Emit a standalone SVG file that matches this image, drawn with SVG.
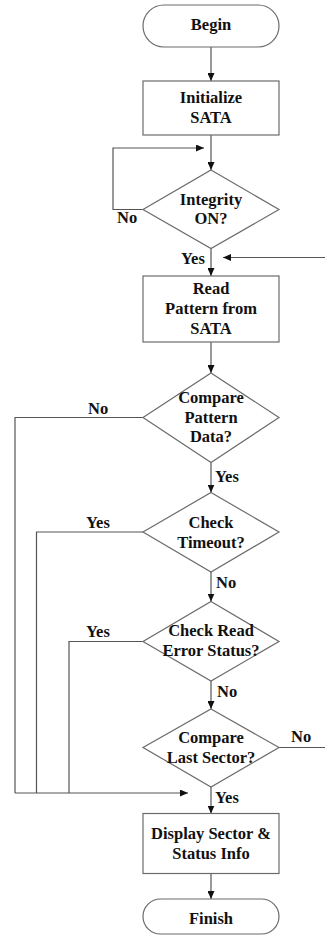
<svg xmlns="http://www.w3.org/2000/svg" width="325" height="935" viewBox="0 0 325 935">
<style>
.n{fill:#fff;stroke:#6b6b6b;stroke-width:1.2}
text{font-family:'Liberation Serif','DejaVu Serif',serif;font-weight:700;font-size:16.5px;fill:#111}
.t{text-anchor:middle}
.c{fill:none;stroke:#555;stroke-width:1.2}
</style>
<defs>
<marker id="a" markerUnits="userSpaceOnUse" markerWidth="8" markerHeight="7" refX="8" refY="3.5" orient="auto">
<path d="M0,0 L8,3.5 L0,7 z" fill="#111"/>
</marker>
</defs>
<rect width="325" height="935" fill="#fff"/>
<g id="connectors">
<line class="c" x1="211" y1="47" x2="211" y2="81" marker-end="url(#a)"/>
<line class="c" x1="211" y1="135" x2="211" y2="170" marker-end="url(#a)"/>
<polyline class="c" points="143,209.5 113,209.5 113,148 204,148" marker-end="url(#a)"/>
<line class="c" x1="211" y1="248.5" x2="211" y2="276" marker-end="url(#a)"/>
<line class="c" x1="325" y1="257.5" x2="223" y2="257.5" marker-end="url(#a)"/>
<line class="c" x1="211" y1="342" x2="211" y2="373" marker-end="url(#a)"/>
<line class="c" x1="211" y1="462.5" x2="211" y2="492.5" marker-end="url(#a)"/>
<line class="c" x1="211" y1="572" x2="211" y2="601.5" marker-end="url(#a)"/>
<line class="c" x1="211" y1="681" x2="211" y2="709" marker-end="url(#a)"/>
<line class="c" x1="211" y1="787" x2="211" y2="813.5" marker-end="url(#a)"/>
<line class="c" x1="211" y1="873.5" x2="211" y2="899" marker-end="url(#a)"/>
<polyline class="c" points="143,417.5 15,417.5 15,793"/>
<polyline class="c" points="143,532 36.5,532 36.5,793"/>
<polyline class="c" points="143,641.5 69,641.5 69,793"/>
<line class="c" x1="15" y1="793" x2="188" y2="793" marker-end="url(#a)"/>
<line class="c" x1="279" y1="747.5" x2="325" y2="747.5"/>
<text x="117" y="223" font-family="Liberation Serif, serif">No</text>
<text x="181" y="264">Yes</text>
<text x="88" y="414">No</text>
<text x="215" y="481.5">Yes</text>
<text x="86" y="527.5">Yes</text>
<text x="216" y="588">No</text>
<text x="86" y="637">Yes</text>
<text x="217" y="697">No</text>
<text x="291" y="741.5">No</text>
<text x="215" y="802.5">Yes</text>
</g>
<g id="begin">
<rect class="n" x="143" y="5" width="136" height="42" rx="21"/>
<text class="t" x="211" y="30">Begin</text>
</g>
<g id="init">
<rect class="n" x="143" y="81" width="136" height="54"/>
<text class="t" x="211" y="103">Initialize</text>
<text class="t" x="211" y="123">SATA</text>
</g>
<g id="integrity">
<polygon class="n" points="211,170 279,209.5 211,248.5 143,209.5"/>
<text class="t" x="211" y="204.5">Integrity</text>
<text class="t" x="211" y="224">ON?</text>
</g>
<g id="read">
<rect class="n" x="143" y="276" width="136" height="66"/>
<text class="t" x="211" y="294">Read</text>
<text class="t" x="211" y="313.5">Pattern from</text>
<text class="t" x="211" y="333.5">SATA</text>
</g>
<g id="comparePattern">
<polygon class="n" points="211,373 279,417.5 211,462.5 143,417.5"/>
<text class="t" x="211" y="402.5">Compare</text>
<text class="t" x="211" y="422.5">Pattern</text>
<text class="t" x="211" y="442">Data?</text>
</g>
<g id="timeout">
<polygon class="n" points="211,492.5 279,532 211,572 143,532"/>
<text class="t" x="211" y="527.5">Check</text>
<text class="t" x="211" y="547.5">Timeout?</text>
</g>
<g id="readError">
<polygon class="n" points="211,601.5 279,641.5 211,681 143,641.5"/>
<text class="t" x="211" y="636">Check Read</text>
<text class="t" x="211" y="656">Error Status?</text>
</g>
<g id="lastSector">
<polygon class="n" points="211,709 279,747.5 211,787 143,747.5"/>
<text class="t" x="211" y="742.5">Compare</text>
<text class="t" x="211" y="762.5">Last Sector?</text>
</g>
<g id="display">
<rect class="n" x="143" y="813.5" width="136" height="60"/>
<text class="t" x="211" y="838.5">Display Sector &amp;</text>
<text class="t" x="211" y="858.5">Status Info</text>
</g>
<g id="finish">
<rect class="n" x="143" y="899" width="136" height="35" rx="17.5"/>
<text class="t" x="211" y="924">Finish</text>
</g>
</svg>
